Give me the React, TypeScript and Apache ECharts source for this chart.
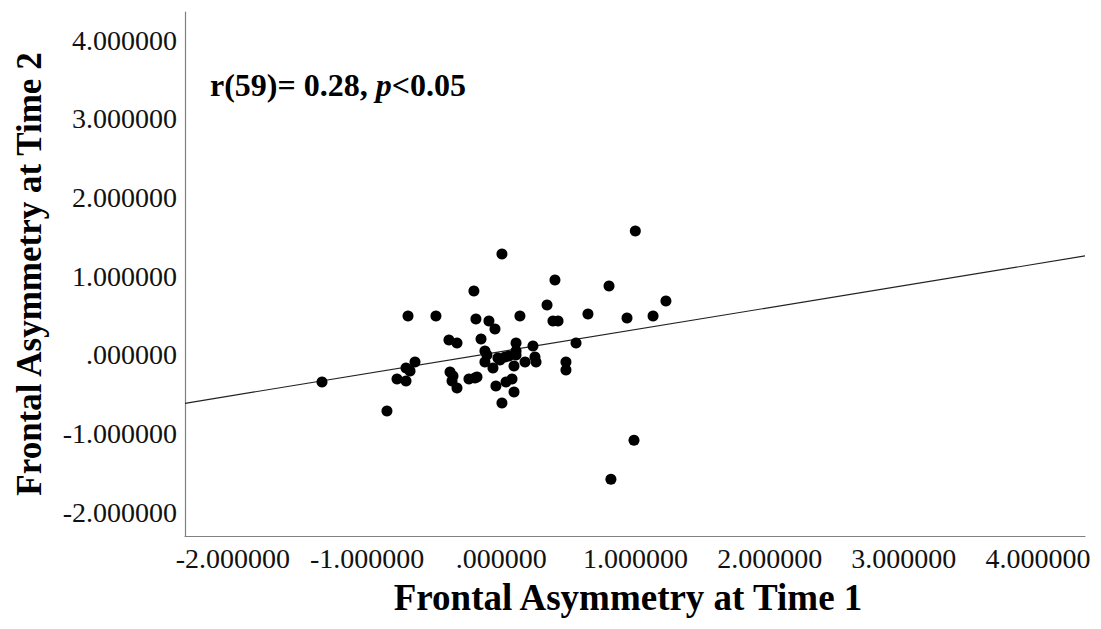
import React, { useEffect, useRef } from "react";
import * as echarts from "echarts";

// Frontal asymmetry at Time 1 (x) vs Time 2 (y)
const time1: number[] = [
  -1.336, -0.852, -0.695, -0.487, -0.643, -0.71, -0.68, -0.777, -0.71, -0.39,
  -0.33, -0.382, -0.367, -0.33, -0.241, -0.181, -0.204, -0.189, -0.092, -0.047,
  -0.151, -0.122, -0.122, -0.062, -0.025, 0.028, -0.04, 0.035, 0.08, 0.095,
  0.005, 0.005, 0.139, 0.11, 0.11, 0.095, 0.177, 0.236, 0.251, 0.259,
  0.341, 0.4, 0.385, 0.423, 0.646, 0.803, 0.937, 1.131, 1.227, 0.999,
  0.557, 0.482, 0.482, 0.989, 0.817, 0.057, 0.11, -0.107, -0.01, -0.36,
  -0.196,
];
const time2: number[] = [
  -0.347, -0.715, 0.492, 0.492, -0.092, -0.169, -0.207, -0.309, -0.334, 0.187,
  0.149, -0.22, -0.334, -0.423, -0.309, -0.284, 0.81, 0.454, 0.429, 0.327,
  0.2, 0.047, -0.093, -0.169, -0.042, -0.029, -0.398, -0.347, -0.309, -0.474,
  -0.614, 1.28, 0.492, 0.149, -0.004, -0.143, -0.093, 0.111, -0.029, -0.093,
  0.632, 0.95, 0.429, 0.429, 0.517, 0.873, 0.467, 0.492, 0.683, 1.572,
  0.149, -0.093, -0.195, -1.089, -1.585, -0.017, 0.047, -0.004, -0.067, -0.271,
  -0.296,
];
// Fit line endpoints
const fitX: number[] = [-2.357, 4.35];
const fitY: number[] = [-0.618, 1.255];

const xRange: number[] = [-2.357, 4.35];
const yRange: number[] = [-2.305, 4.356];

const xTitle = "Frontal Asymmetry at Time 1";
const yTitle = "Frontal Asymmetry at Time 2";

const SERIF = "'Liberation Serif', 'Times New Roman', Times, serif";

function fmt(v: number): string {
  if (Math.abs(v - Math.round(v)) > 1e-6) return "";
  const r = Math.round(v);
  if (r === 0) return ".000000";
  return r.toFixed(6);
}

export default function App() {
  const ref = useRef<HTMLDivElement>(null);
  useEffect(() => {
    if (!ref.current) return;
    const chart = echarts.init(ref.current, null, { renderer: "svg" });
    const points = time1.map((x, i) => [x, time2[i]]);
    const fit = fitX.map((x, i) => [x, fitY[i]]);
    chart.setOption({
      animation: false,
      backgroundColor: "#ffffff",
      grid: {
        left: 185,
        top: 12,
        right: 16,
        bottom: 93,
        containLabel: false,
        outerBoundsMode: "none",
      },
      xAxis: {
        type: "value",
        min: xRange[0],
        max: xRange[1],
        splitNumber: 6,
        name: xTitle,
        nameLocation: "middle",
        nameGap: 43,
        nameTextStyle: { fontFamily: SERIF, fontWeight: "bold", fontSize: 37, color: "#000", padding: [0, 14, 0, 0] },
        axisLine: { show: true, onZero: false, lineStyle: { color: "#808080", width: 1.2 } },
        axisTick: { show: false },
        splitLine: { show: false },
        axisLabel: {
          formatter: fmt,
          fontFamily: SERIF,
          fontSize: 28,
          color: "#111",
          margin: 8,
          showMinLabel: false,
          showMaxLabel: true,
        },
      },
      yAxis: {
        type: "value",
        min: yRange[0],
        max: yRange[1],
        splitNumber: 6,
        name: yTitle,
        nameLocation: "middle",
        nameGap: 138,
        nameTextStyle: { fontFamily: SERIF, fontWeight: "bold", fontSize: 35, color: "#000" },
        axisLine: { show: true, onZero: false, lineStyle: { color: "#808080", width: 1.2 } },
        axisTick: { show: false },
        splitLine: { show: false },
        axisLabel: {
          formatter: fmt,
          fontFamily: SERIF,
          fontSize: 28,
          color: "#111",
          margin: 8,
          showMinLabel: false,
          showMaxLabel: false,
        },
      },
      graphic: [
        {
          type: "text",
          left: 210,
          top: 69,
          style: {
            text: "{b|r(59)= 0.28, }{i|p}{b|<0.05}",
            rich: {
              b: { fontFamily: SERIF, fontWeight: "bold", fontSize: 32, fill: "#000" },
              i: { fontFamily: SERIF, fontWeight: "bold", fontStyle: "italic", fontSize: 32, fill: "#000" },
            },
          },
        },
      ],
      series: [
        {
          type: "line",
          data: fit,
          showSymbol: false,
          symbol: "none",
          lineStyle: { color: "#222", width: 1.2 },
          silent: true,
          z: 1,
        },
        {
          type: "scatter",
          data: points,
          symbolSize: 11,
          itemStyle: { color: "#000", opacity: 1 },
          z: 2,
        },
      ],
    });
    return () => chart.dispose();
  }, []);
  return (
    <div
      ref={ref}
      style={{ position: "fixed", left: 0, top: 0, width: 1101, height: 629, background: "#fff" }}
    />
  );
}
